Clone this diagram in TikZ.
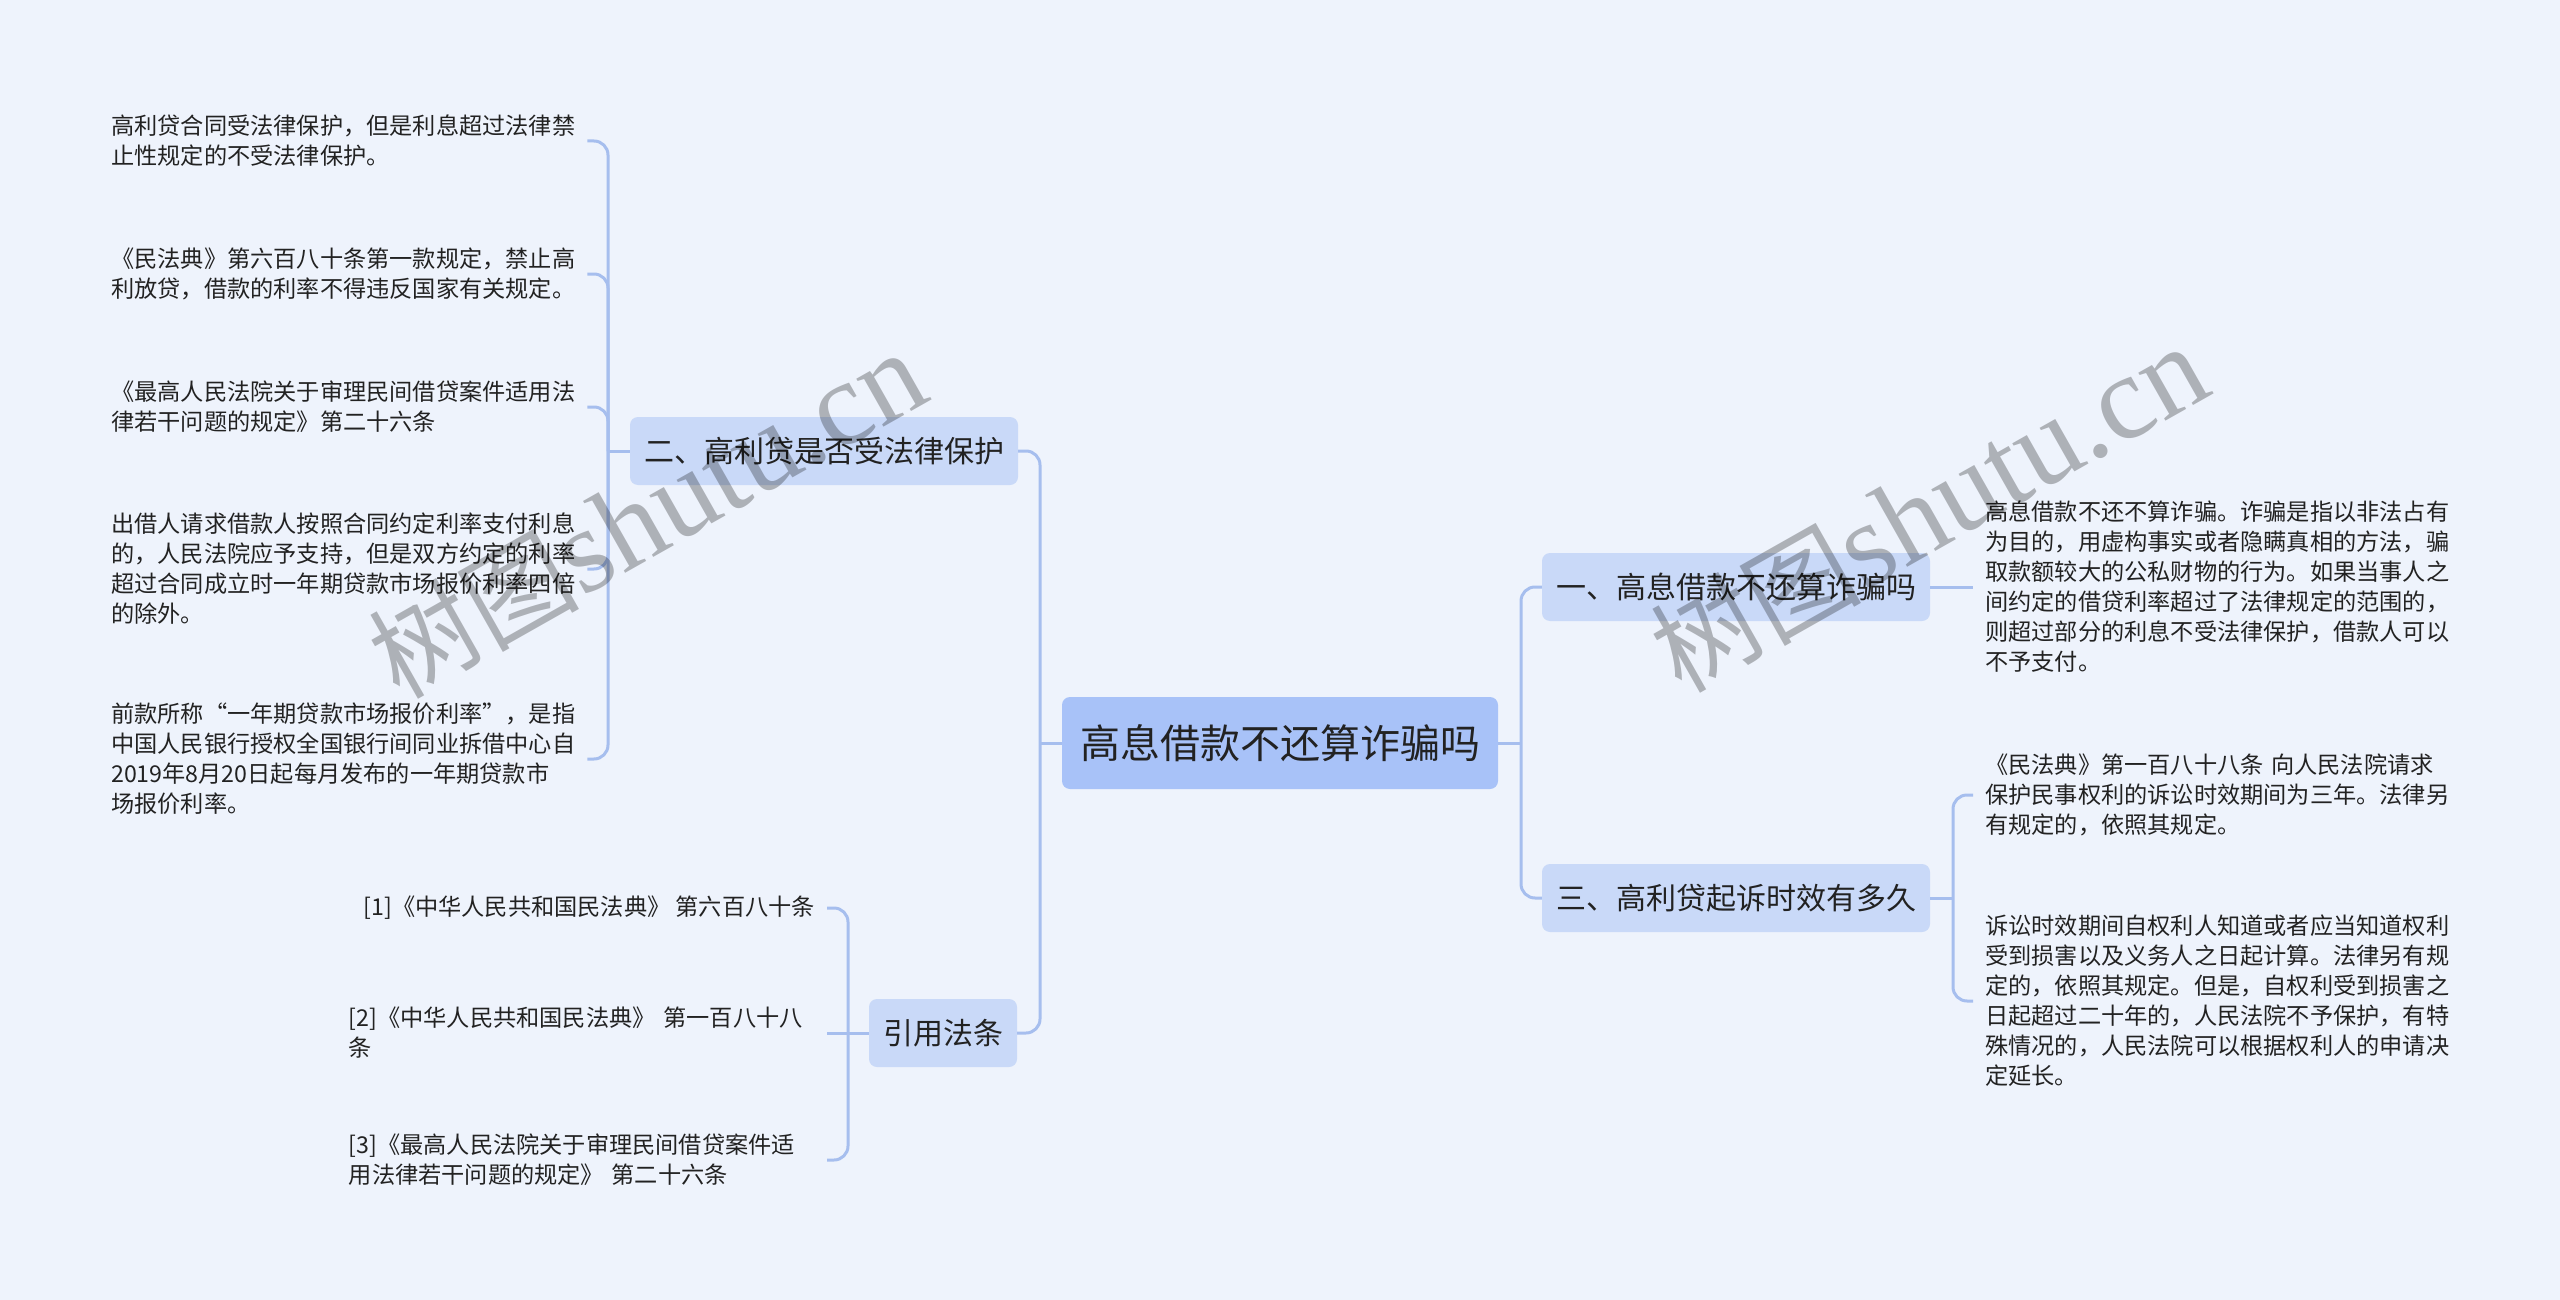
\documentclass[tikz,border=0pt]{standalone}
\usepackage{fontspec}
\setmainfont{Noto Sans CJK SC}
\newfontfamily\cjkfont{Noto Sans CJK SC}
\newfontfamily\wmlatin{Liberation Serif}
\definecolor{bgc}{HTML}{EEF3FC}
\definecolor{rootfill}{HTML}{A8C2F8}
\definecolor{brfill}{HTML}{C9D9F8}
\definecolor{lnc}{HTML}{A6BEEE}
\definecolor{txt}{HTML}{222222}
\begin{document}
\begin{tikzpicture}[x=1pt,y=-1pt,
  rootbox/.style={fill=rootfill, rounded corners=8, inner xsep=18, inner ysep=0, minimum height=92, text=txt, font=\cjkfont\fontsize{40}{48}\selectfont},
  brbox/.style={fill=brfill, rounded corners=8, inner xsep=14, inner ysep=0, minimum height=68, text=txt, font=\cjkfont\fontsize{30}{36}\selectfont},
  leaf/.style={inner xsep=12, inner ysep=2, align=left, text=txt, font=\cjkfont\fontsize{23.2}{30}\selectfont},
  leafw/.style={leaf, text width=464},
  conn/.style={draw=lnc, line width=3, rounded corners=14},
  wm/.style={rotate=29.5, text=black, text opacity=0.27}
]
\useasboundingbox (0,0) rectangle (2560,1300);
\fill[bgc] (0,0) rectangle (2560,1300);

% central and branches
\node[rootbox] (root) at (1280,743) {高息借款不还算诈骗吗};
\node[brbox] (b2) at (824,451) {二、高利贷是否受法律保护};
\node[brbox] (b4) at (943,1033) {引用法条};
\node[brbox] (b1) at (1736,587) {一、高息借款不还算诈骗吗};
\node[brbox] (b3) at (1736,898) {三、高利贷起诉时效有多久};

% left leaves of b2
\node[leafw, anchor=west] (l1) at (99,141) {高利贷合同受法律保护，但是利息超过法律禁\\止性规定的不受法律保护。};
\node[leafw, anchor=west] (l2) at (99,274) {《民法典》第六百八十条第一款规定，禁止高\\利放贷，借款的利率不得违反国家有关规定。};
\node[leafw, anchor=west] (l3) at (99,407) {《最高人民法院关于审理民间借贷案件适用法\\律若干问题的规定》第二十六条};
\node[leafw, anchor=west] (l4) at (99,569) {出借人请求借款人按照合同约定利率支付利息\\的，人民法院应予支持，但是双方约定的利率\\超过合同成立时一年期贷款市场报价利率四倍\\的除外。};
\node[leafw, anchor=west] (l5) at (99,759) {前款所称“一年期贷款市场报价利率”，是指\\中国人民银行授权全国银行间同业拆借中心自\\2019年8月20日起每月发布的一年期贷款市\\场报价利率。};

% citation leaves
\node[leaf, anchor=east] (c1) at (827,908) {[1]《中华人民共和国民法典》 第六百八十条};
\node[leaf, anchor=east, text width=466] (c2) at (827,1033) {[2]《中华人民共和国民法典》 第一百八十八\\条};
\node[leaf, anchor=east, text width=466] (c3) at (827,1160) {[3]《最高人民法院关于审理民间借贷案件适\\用法律若干问题的规定》 第二十六条};

% right leaves
\node[leafw, anchor=west] (r1) at (1973,587) {高息借款不还不算诈骗。诈骗是指以非法占有\\为目的，用虚构事实或者隐瞒真相的方法，骗\\取款额较大的公私财物的行为。如果当事人之\\间约定的借贷利率超过了法律规定的范围的，\\则超过部分的利息不受法律保护，借款人可以\\不予支付。};
\node[leafw, anchor=west] (r2) at (1973,795) {《民法典》第一百八十八条 向人民法院请求\\保护民事权利的诉讼时效期间为三年。法律另\\有规定的，依照其规定。};
\node[leafw, anchor=west] (r3) at (1973,1001) {诉讼时效期间自权利人知道或者应当知道权利\\受到损害以及义务人之日起计算。法律另有规\\定的，依照其规定。但是，自权利受到损害之\\日起超过二十年的，人民法院不予保护，有特\\殊情况的，人民法院可以根据权利人的申请决\\定延长。};

% junction points
\coordinate (jL) at (1040,743);
\coordinate (jR) at (1521,743);
\coordinate (jB2) at (608,451);
\coordinate (jB4) at (848,1033);
\coordinate (jB3) at (1953,898);

% connectors
\draw[conn] (root.west) -- (jL);
\draw[conn] (b2.east) -| (jL) |- (b4.east);
\draw[conn] (root.east) -- (jR);
\draw[conn] (b1.west) -| (jR) |- (b3.west);
\draw[conn] (b1.east) -- (r1.west);
\draw[conn] (b3.east) -- (jB3);
\draw[conn] (r2.west) -| (jB3) |- (r3.west);
\draw[conn] (b2.west) -- (jB2);
\draw[conn] (l1.east) -| (jB2) |- (l5.east);
\draw[conn] (l2.east) -| (jB2);
\draw[conn] (l3.east) -| (jB2);
\draw[conn] (l4.east) -| (jB2);
\draw[conn] (b4.west) -- (jB4);
\draw[conn] (c1.east) -| (jB4) |- (c3.east);
\draw[conn] (c2.east) -- (jB4);

% watermarks
\node[wm] (wm1) at (647,515) {{\cjkfont\fontsize{105}{110}\selectfont 树图}{\wmlatin\fontsize{120}{120}\selectfont shutu.cn}};
\node[wm] (wm2) at (1929,509) {{\cjkfont\fontsize{105}{110}\selectfont 树图}{\wmlatin\fontsize{120}{120}\selectfont shutu.cn}};
\end{tikzpicture}
\end{document}
